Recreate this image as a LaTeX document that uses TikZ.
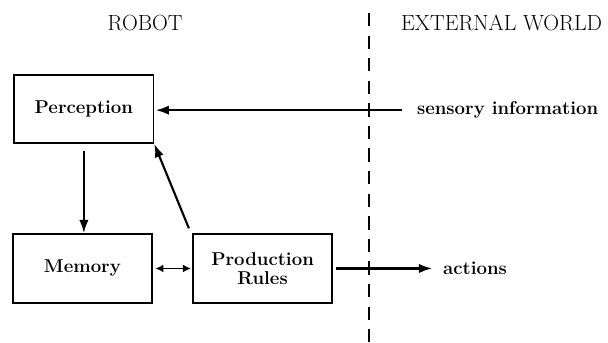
\documentclass[tikz,border=0pt]{standalone}
\usetikzlibrary{arrows.meta}

\begin{document}
\begin{tikzpicture}[
    box/.style={draw,line width=1.3pt,minimum width=3.68cm,minimum height=1.82cm,
      align=center,font=\fontsize{14}{16}\selectfont\bfseries},
    lbl/.style={font=\fontsize{14}{16}\selectfont\bfseries,inner sep=0pt},
    head/.style={font=\fontsize{16.5}{18}\selectfont,inner sep=0pt},
    conn/.style={line width=1.6pt,-{Latex[length=10pt,width=7pt]}}
  ]
  \useasboundingbox (0,0) rectangle (16.09,9.075);

  % the two sides
  \node[head] (robot) at (3.84,8.47) {ROBOT};
  \node[head,anchor=west] (world) at (10.61,8.47) {EXTERNAL WORLD};
  \draw[line width=1.2pt,dash pattern=on 10pt off 7pt] (9.76,8.73) -- (9.76,0);

  % the robot
  \node[box,minimum height=1.80cm] (perc) at (2.22,6.19) {Perception};
  \node[box] (mem) at (2.18,1.97) {Memory};
  \node[box] (rules) at (6.95,1.97) {Production\\[-2pt]Rules};

  % the world
  \node[lbl,anchor=west] (sens) at (11.03,6.16) {sensory information};
  \node[lbl,anchor=west] (act) at (11.72,1.97) {actions};
  \coordinate (S) at (10.64,6.16);

  \draw[conn,shorten >=1pt] (S) -- (S -| perc.east);
  \draw[conn,shorten <=5pt] (perc.south) -- (perc.south |- mem.north);
  \draw[conn,shorten <=4pt] ([xshift=-1pt]rules.north west) -- (perc.south east);
  \draw[line width=1.3pt,{Latex[length=6pt,width=6pt]}-{Latex[length=6pt,width=6pt]},shorten <=2pt,shorten >=1pt]
    (mem.east) -- (rules.west);
  \draw[conn,shorten <=2pt,shorten >=8pt] (rules.east) -- (act.west);
\end{tikzpicture}
\end{document}
